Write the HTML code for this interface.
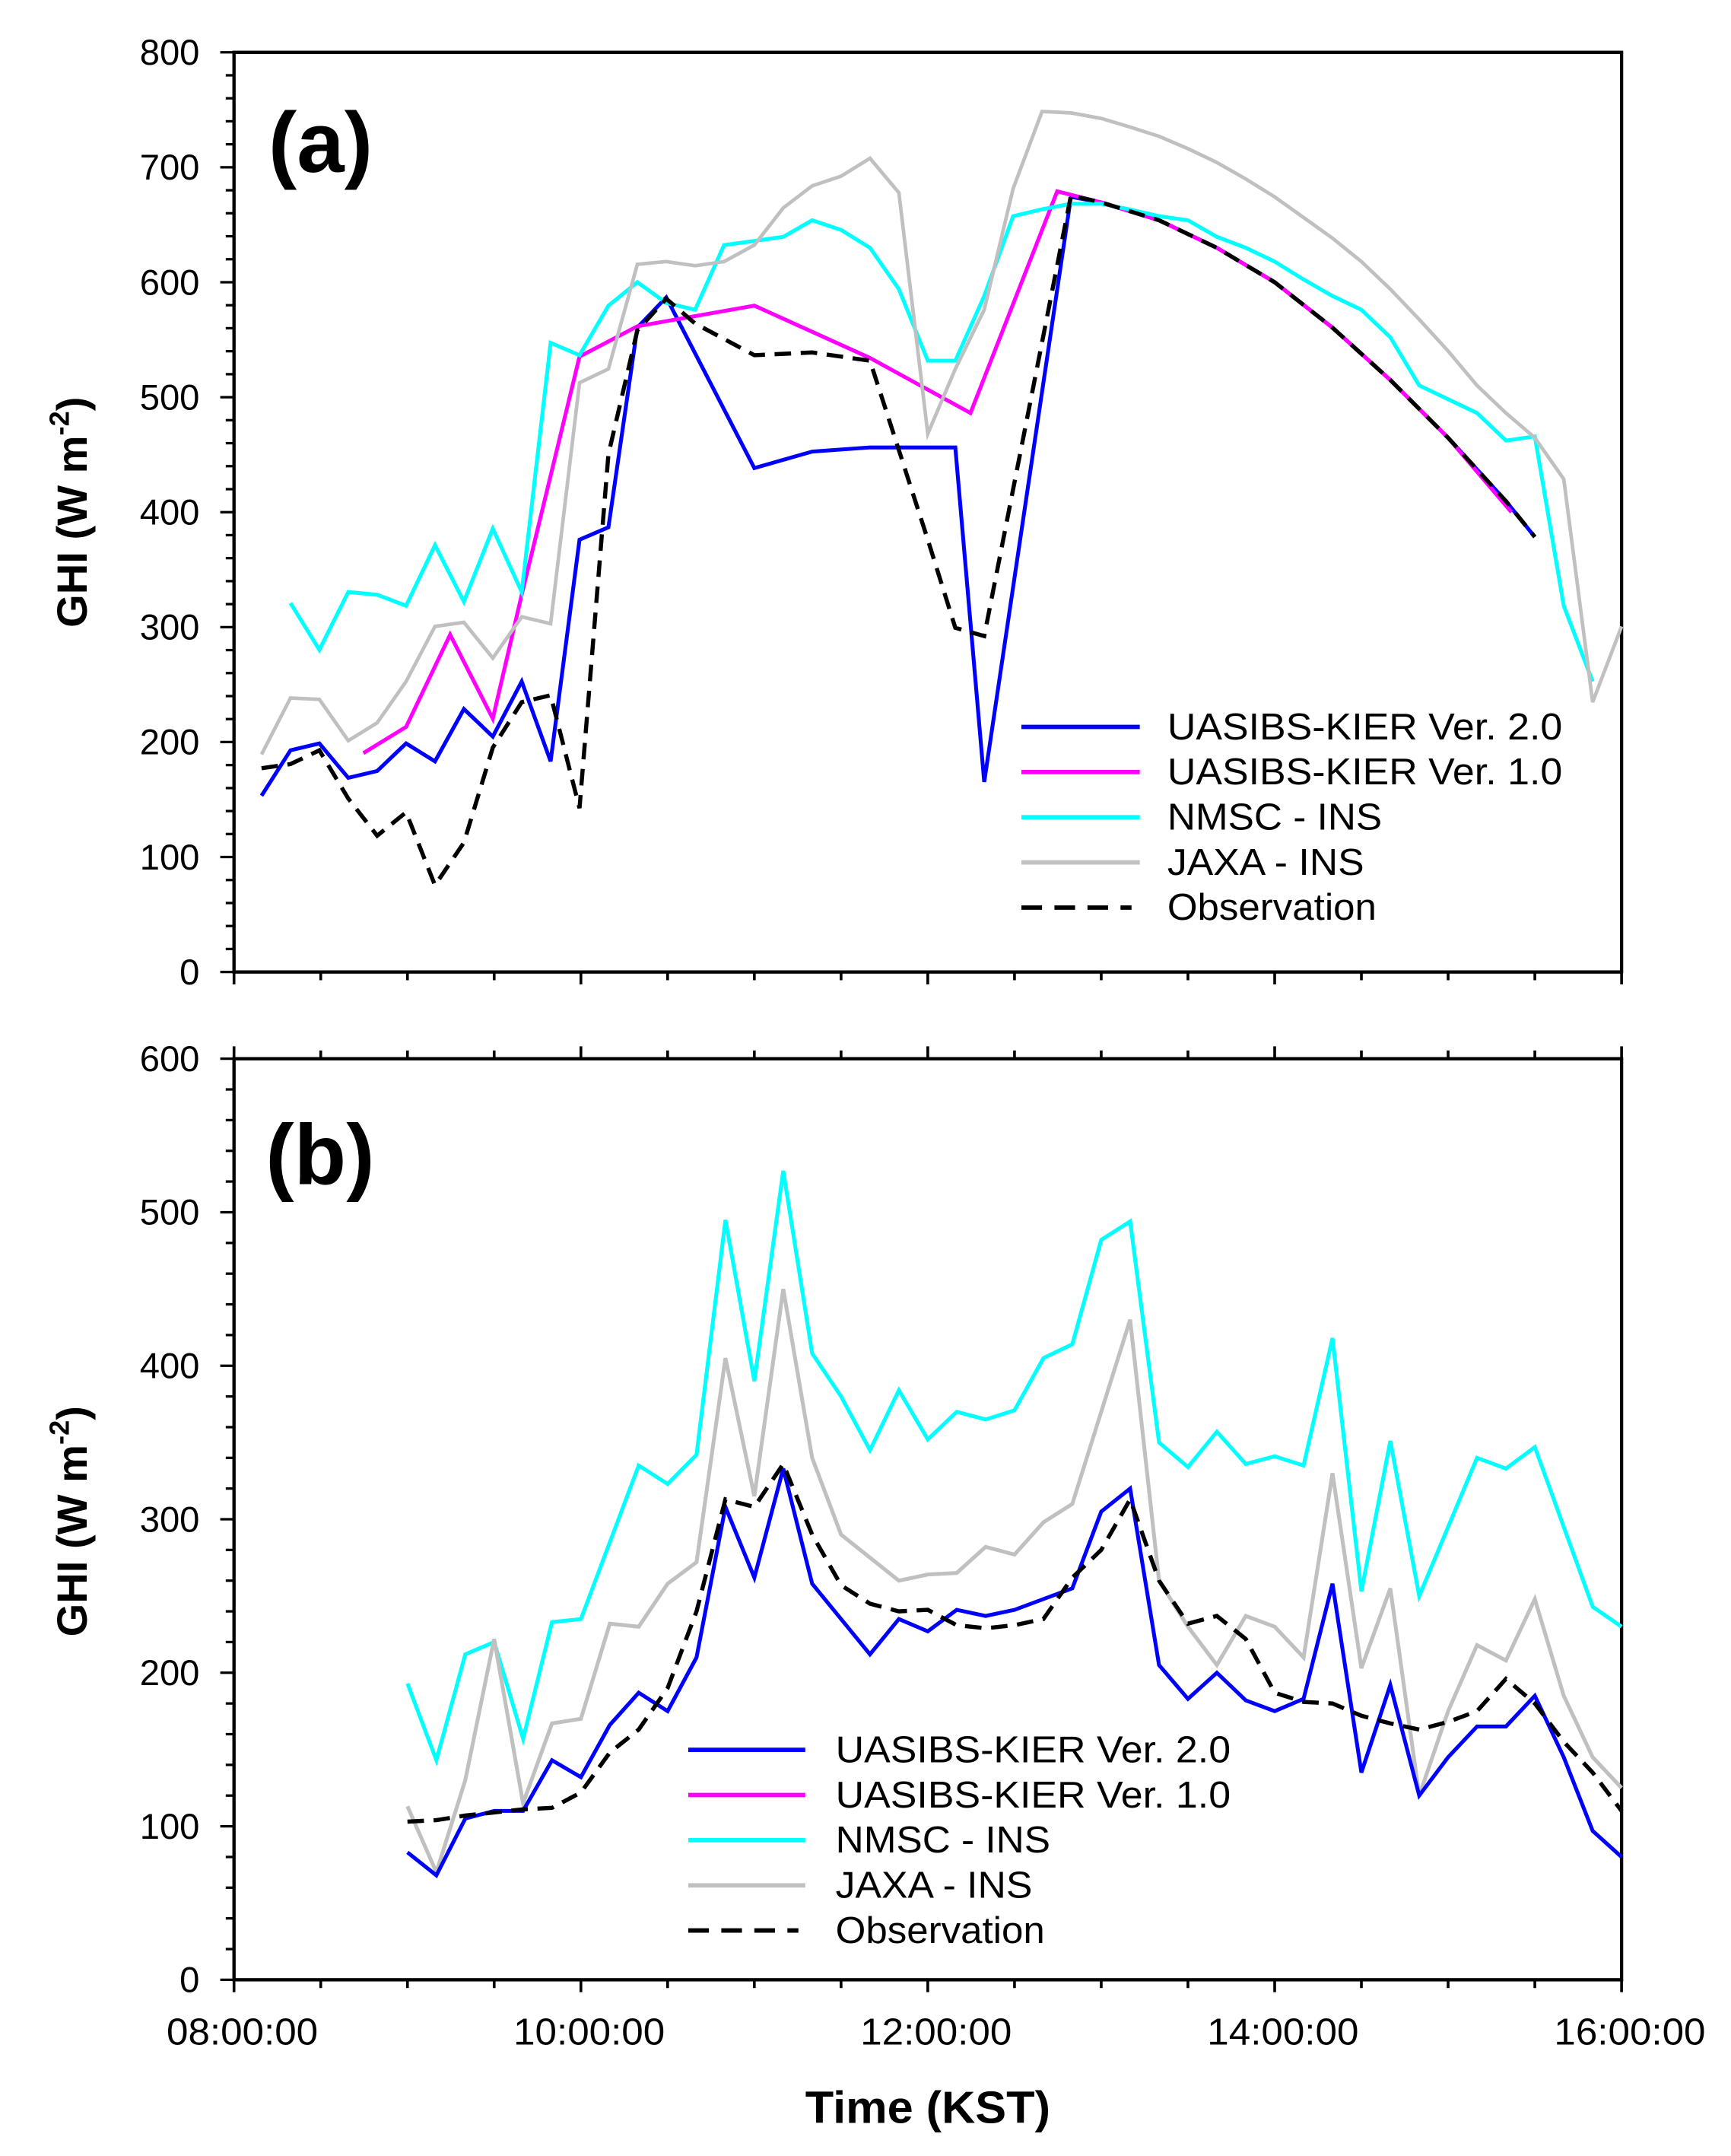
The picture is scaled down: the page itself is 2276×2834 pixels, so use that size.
<!DOCTYPE html>
<html><head><meta charset="utf-8">
<style>html,body{margin:0;padding:0;background:#fff}svg{display:block}</style>
</head><body>
<svg id="s" width="2276" height="2834" viewBox="0 0 1257.5 1566" preserveAspectRatio="none" xmlns="http://www.w3.org/2000/svg" font-family="Liberation Sans, Arial, sans-serif">
<rect width="1257.5" height="1566" fill="#fff"/>
<g id="g"></g>
</svg>
<script>
const NS="http://www.w3.org/2000/svg";const G=document.getElementById('g');
function el(t,a,txt){const e=document.createElementNS(NS,t);for(const k in a)e.setAttribute(k,a[k]);if(txt!==undefined)e.textContent=txt;G.appendChild(e);return e;}
function line(x1,y1,x2,y2,w,c){el('line',{x1,y1,x2,y2,stroke:c||'#000','stroke-width':w||2});}
function poly(pts,c,w,dash){const a={points:pts.map(p=>p.join(',')).join(' '),fill:'none',stroke:c,'stroke-width':w,'stroke-linejoin':'miter'};if(dash)a['stroke-dasharray']=dash;el('polyline',a);}
const X0=170,X1=1178;const hx=h=>X0+(h-8)*(X1-X0)/8;
function panel(top,bot,maxv,step,minor,xtop){
  el('rect',{x:X0,y:top,width:X1-X0,height:bot-top,fill:'none',stroke:'#000','stroke-width':2.4});
  const s=(bot-top)/maxv;
  for(let v=0;v<=maxv;v+=minor){const y=bot-v*s;const maj=v%step==0;line(X0-(maj?10:6),y,X0,y,1.8);
    if(maj)el('text',{x:145,y:y+9,'font-size':26,'text-anchor':'end',textLength:String(v).length*14.5,lengthAdjust:'spacingAndGlyphs'},String(v));}
  for(let i=0;i<=16;i++){const x=X0+i*(X1-X0)/16;const maj=i%4==0;
    line(x,bot,x,bot+(maj?9:6),2);
    if(xtop)line(x,top,x,top-(maj?9:6),2);}
}
panel(38,706,800,100,20,false);
panel(769,1438,600,100,20,true);
poly([[190,578],[211,545],[232,540],[253,565],[274,560],[295,540],[316,553],[337,515],[358,535],[379,495],[400,553],[421,392],[442,383],[463,238],[484,216],[548,340],[590,328],[632,325],[694,325],[715,568],[778,143],[800,147],[842,160],[884,180],[926,205],[968,238],[1010,276],[1052,318],[1094,364],[1115,390]],'#0000ff',2.8);
poly([[264,547],[295,528],[327,461],[358,522],[379,432],[421,259],[463,237],[548,222],[632,260],[705,300],[768,139],[800,147],[842,160],[884,180],[926,205],[968,238],[1010,276],[1052,318],[1098,372]],'#ff00ff',2.8);
poly([[211,438],[232,472],[253,430],[274,432],[295,440],[316,396],[337,437],[358,384],[379,430],[400,249],[421,258],[442,222],[463,205],[484,220],[505,225],[526,178],[548,175],[569,172],[590,160],[611,167],[632,180],[653,210],[674,262],[694,262],[715,215],[736,157],[757,152],[778,148],[800,148],[820,152],[842,157],[863,160],[884,172],[905,180],[926,190],[947,203],[968,215],[989,225],[1010,245],[1031,280],[1052,290],[1073,300],[1094,320],[1115,317],[1136,440],[1157,495]],'#00ffff',2.8);
poly([[190,548],[211,507],[232,508],[253,538],[274,525],[295,495],[316,455],[337,452],[358,478],[379,448],[400,453],[421,278],[442,268],[463,192],[484,190],[505,193],[526,190],[548,178],[569,151],[590,135],[611,128],[632,115],[653,140],[674,315],[694,268],[715,225],[736,137],[757,81],[778,82],[800,86],[820,92],[842,99],[863,108],[884,118],[905,130],[926,143],[947,158],[968,173],[989,190],[1010,210],[1031,232],[1052,255],[1073,280],[1094,300],[1115,318],[1136,348],[1157,510],[1178,455]],'#c0c0c0',2.6);
poly([[190,558],[211,555],[232,545],[253,580],[274,607],[295,590],[316,643],[337,612],[358,543],[379,510],[400,505],[421,587],[442,330],[463,240],[484,217],[505,235],[548,258],[590,256],[632,262],[674,392],[694,456],[715,462],[778,142],[800,147],[842,160],[884,180],[926,205],[968,238],[1010,276],[1052,318],[1094,364],[1115,390]],'#000',3,'12,7');
const yb=v=>1438-v*669/600;
const bx=i=>hx(9+i/6);
function ser(vals,c,w,d){poly(vals.map((v,i)=>[bx(i),yb(v)]),c,w,d);}
ser([193,143,212,220,157,233,235,285,335,323,342,495,390,527,408,380,345,384,352,370,365,371,405,414,482,494,350,334,357,336,341,335,418,253,351,250,295,340,333,347,295,243,230],'#00ffff',2.8);
ser([113,70,130,222,115,167,170,232,230,258,272,405,315,450,340,290,275,260,264,265,282,277,298,310,370,430,260,230,205,237,230,210,330,203,255,120,175,218,208,248,185,145,125],'#c0c0c0',2.8);
ser([83,68,105,110,110,143,132,166,187,175,210,308,262,333,258,235,212,235,227,241,237,241,248,255,305,320,205,183,200,182,175,183,258,135,192,120,145,165,165,185,145,97,80],'#0000ff',2.8);
ser([103,104,107,109,111,112,122,148,163,190,240,313,308,336,290,257,245,240,241,231,229,231,235,262,280,313,260,232,237,222,187,181,180,172,167,163,168,175,196,180,155,135,110],'#000',3,'12,7');
function legend(lx,tx,y0,w){const items=[['UASIBS-KIER Ver. 2.0','#0000ff'],['UASIBS-KIER Ver. 1.0','#ff00ff'],['NMSC - INS','#00ffff'],['JAXA - INS','#c0c0c0'],['Observation','#000']];
 const lens=[287,287,156,143,152];
 items.forEach((it,i)=>{const y=y0+i*32.8;
  if(i==4)el('line',{x1:lx,y1:y,x2:lx+80,y2:y,stroke:'#000','stroke-width':3.2,'stroke-dasharray':'15,9'});
  else line(lx,y,lx+w,y,3.2,it[1]);
  el('text',{x:tx,y:y+9,'font-size':27,textLength:lens[i],lengthAdjust:'spacingAndGlyphs'},it[0]);});}
legend(742,848,528,86);
legend(500,607,1271,85);
el('text',{x:195,y:125,'font-size':62,'font-weight':'bold'},'(a)');
el('text',{x:193,y:860,'font-size':62,'font-weight':'bold'},'(b)');
['08:00:00','10:00:00','12:00:00','14:00:00','16:00:00'].forEach((t,i)=>el('text',{x:hx(8+2*i)+6,y:1485,'font-size':27,'text-anchor':'middle',textLength:110,lengthAdjust:'spacingAndGlyphs'},t));
el('text',{x:674,y:1542,'font-size':33,'font-weight':'bold','text-anchor':'middle',textLength:178,lengthAdjust:'spacingAndGlyphs'},'Time (KST)');
function ylab(cy){const t=el('text',{x:0,y:0,'font-size':31,'font-weight':'bold','text-anchor':'middle',transform:`translate(63,${cy}) rotate(-90)`});
 t.innerHTML='GHI (W m<tspan dy="-13" font-size="20">-2</tspan><tspan dy="13">)</tspan>';}
ylab(372);ylab(1105);
</script>
</body></html>
